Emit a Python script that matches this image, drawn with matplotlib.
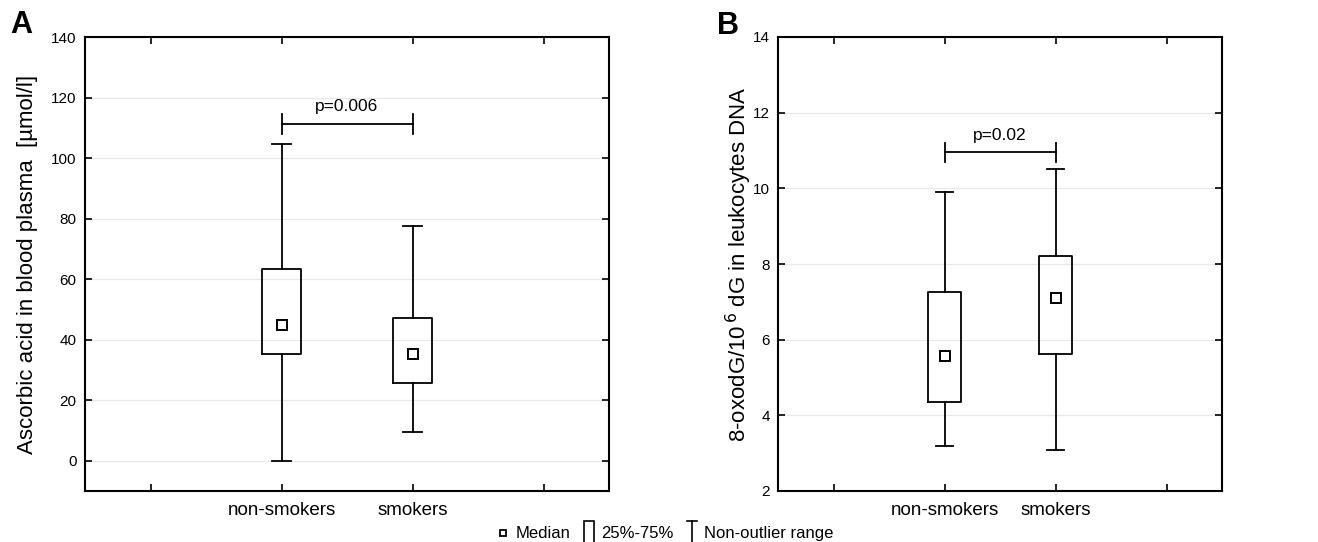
import matplotlib
matplotlib.use("Agg")
import matplotlib.pyplot as plt
from matplotlib.lines import Line2D
from matplotlib.patches import Rectangle
from matplotlib.legend_handler import HandlerBase

plt.rcParams['font.family'] = ['Liberation Sans', 'DejaVu Sans']

groups = ["non-smokers", "smokers"]

# panel A: ascorbic acid [umol/l]
a_whislo = [0.0, 9.4]
a_q1 = [35.1, 25.8]
a_med = [44.9, 35.3]
a_q3 = [63.5, 47.0]
a_whishi = [104.7, 77.7]
a_p_text = "p=0.006"
a_p_level = 111.4

# panel B: 8-oxodG / 10^6 dG
b_whislo = [3.19, 3.08]
b_q1 = [4.36, 5.63]
b_med = [5.58, 7.10]
b_q3 = [7.26, 8.21]
b_whishi = [9.89, 10.51]
b_p_text = "p=0.02"
b_p_level = 10.95


def draw_panel(ax, whislo, q1, med, q3, whishi, p_text, p_level, p_tick, ylim, yticks, ylabel):
    stats = []
    for i in range(len(groups)):
        stats.append({"whislo": whislo[i], "q1": q1[i], "med": med[i],
                      "q3": q3[i], "whishi": whishi[i], "fliers": []})
    pos = [1, 2]
    ax.bxp(stats, positions=pos, widths=0.3, capwidths=0.15, showfliers=False,
           boxprops=dict(color="black", linewidth=1.3),
           whiskerprops=dict(color="black", linewidth=1.3),
           capprops=dict(color="black", linewidth=1.3),
           medianprops=dict(linestyle="none"), zorder=3)
    ax.plot(pos, med, linestyle="none", marker="s", markersize=6.5,
            markerfacecolor="white", markeredgecolor="black", markeredgewidth=1.4, zorder=4)

    # significance bracket
    ax.plot([pos[0], pos[1]], [p_level, p_level], color="black", lw=1.3)
    for x in pos:
        ax.plot([x, x], [p_level - p_tick, p_level + p_tick], color="black", lw=1.3)
    ax.text(1.5, p_level + p_tick * 1.0, p_text, ha="center", va="bottom", fontsize=12.5)

    ax.set_xlim(-0.5, 3.5)
    ax.set_ylim(*ylim)
    ax.set_yticks(yticks)
    ax.set_xticks([0, 1, 2, 3])
    ax.set_xticklabels(["", groups[0], groups[1], ""], fontsize=13.5)
    ax.tick_params(axis="both", direction="in", top=True, right=True, length=5, width=1.2)
    ax.tick_params(axis="y", labelsize=11, pad=6)
    ax.tick_params(axis="x", pad=8)
    ax.grid(axis="y", color="#e8e8e8", linewidth=0.9, zorder=0)
    ax.set_axisbelow(True)
    for s in ax.spines.values():
        s.set_linewidth(1.5)
    ax.set_ylabel(ylabel, fontsize=16)


class BoxHandler(HandlerBase):
    def create_artists(self, legend, orig_handle, xdescent, ydescent, width, height, fontsize, trans):
        cx = width / 2 - xdescent
        cy = height / 2 - ydescent
        r = Rectangle((cx - 0.42 * height, cy - 0.95 * height), 0.84 * height, 1.9 * height,
                      facecolor="white", edgecolor="black", linewidth=1.2, transform=trans)
        return [r]


class WhiskerHandler(HandlerBase):
    def create_artists(self, legend, orig_handle, xdescent, ydescent, width, height, fontsize, trans):
        cx = width / 2 - xdescent
        cy = height / 2 - ydescent
        lo, hi = cy - 0.95 * height, cy + 0.95 * height
        cw = 0.4 * height
        arts = [Line2D([cx, cx], [lo, hi]),
                Line2D([cx - cw, cx + cw], [lo, lo]),
                Line2D([cx - cw, cx + cw], [hi, hi])]
        for a in arts:
            a.set_color("black")
            a.set_linewidth(1.2)
            a.set_transform(trans)
        return arts


fig = plt.figure(figsize=(13.18, 5.42), dpi=100)
ax_a = fig.add_axes([85 / 1318, 51 / 542, 524 / 1318, 454 / 542])
ax_b = fig.add_axes([778 / 1318, 51 / 542, 444 / 1318, 454 / 542])

draw_panel(ax_a, a_whislo, a_q1, a_med, a_q3, a_whishi, a_p_text, a_p_level, 3.3,
           (-10, 140), range(0, 141, 20), "Ascorbic acid in blood plasma  [µmol/l]")
draw_panel(ax_b, b_whislo, b_q1, b_med, b_q3, b_whishi, b_p_text, b_p_level, 0.26,
           (2, 14), range(2, 15, 2), r"8-oxodG/10$^{\,6}$ dG in leukocytes DNA")
ax_a.yaxis.set_label_coords(-0.09, 0.5)
ax_b.yaxis.set_label_coords(-0.055, 0.5)

fig.text(21 / 1318, 1 - 25 / 542, "A", fontsize=22, fontweight="bold", ha="center", va="center")
fig.text(728 / 1318, 1 - 26 / 542, "B", fontsize=22, fontweight="bold", ha="center", va="center")

h_med = Line2D([], [], linestyle="none", marker="s", markersize=5, markerfacecolor="white",
               markeredgecolor="black", markeredgewidth=1.3)
h_box = Rectangle((0, 0), 1, 1)
h_whi = Line2D([], [])
fig.legend([h_med, h_box, h_whi], ["Median", "25%-75%", "Non-outlier range"],
           handler_map={h_box: BoxHandler(), h_whi: WhiskerHandler()},
           loc="center", bbox_to_anchor=(0.504, 0.015), ncol=3, frameon=False,
           fontsize=12, handlelength=1.0, handletextpad=0.25, columnspacing=0.6,
           borderpad=0)

fig.savefig("out.png", dpi=100)
